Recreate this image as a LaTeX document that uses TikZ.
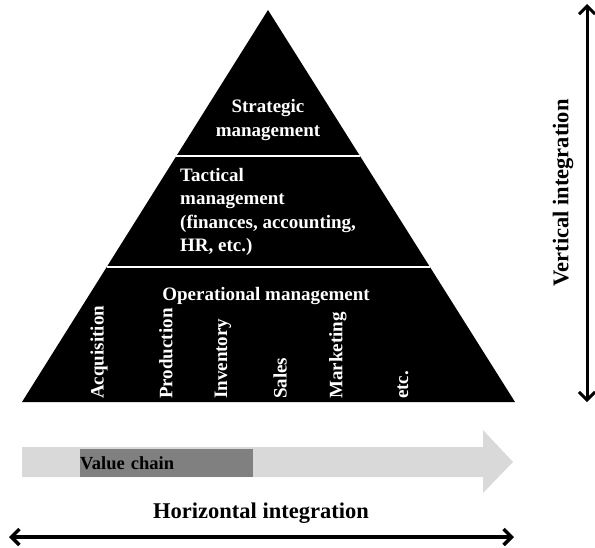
\documentclass[tikz,border=0pt]{standalone}
\usepackage{fontspec}
\setmainfont{Liberation Serif}
\usetikzlibrary{arrows.meta,calc}

\begin{document}
\begin{tikzpicture}[x=1pt, y=-1pt,
    level/.style={text=white, inner sep=0pt, font=\fontsize{19}{23.5}\selectfont\bfseries},
    task/.style={level, rotate=90, anchor=west},
    divider/.style={white, line width=2.5pt},
    integration/.style={line width=3.5pt, {Straight Barb[length=8pt,width=16pt]}-{Straight Barb[length=8pt,width=16pt]}},
    axislabel/.style={inner sep=0pt, font=\fontsize{22.5}{26}\selectfont\bfseries}
]
    \useasboundingbox (0,0) rectangle (595,547);

    % Pyramid
    \coordinate (apex) at (268,10);
    \coordinate (baseL) at (22,402);
    \coordinate (baseR) at (515,402);
    \fill[black] (apex) -- (baseR) -- (baseL) -- cycle;

    % Levels
    \draw[divider] ($(apex)!0.3724!(baseL)$) -- ($(apex)!0.3724!(baseR)$);
    \draw[divider] ($(apex)!0.6556!(baseL)$) -- ($(apex)!0.6556!(baseR)$);

    \node[level, align=center] (strat) at (268,120) {Strategic\\management};
    \node[level, align=left, anchor=west] (tact) at (180,212) {Tactical\\management\\(finances, accounting,\\HR, etc.)};
    \node[level] (oper) at (266,296) {Operational management};

    % Operative Bereiche
    \node[task] (acq) at (99,399) {Acquisition};
    \node[task] (prod) at (166,399) {Production};
    \node[task] (inv) at (223,399) {Inventory};
    \node[task] (sales) at (280,399) {Sales};
    \node[task] (mark) at (338,399) {Marketing};
    \node[task] (etc) at (403,399) {etc.};

    % Value chain
    \fill[gray!30] (22,447) -- (483,447) -- (483,430) -- (513,462) -- (483,493) -- (483,477) -- (22,477) -- cycle;
    \node[fill=gray, inner xsep=0pt, inner ysep=0pt, text width=173pt, minimum height=28pt, anchor=west,
          font=\fontsize{18.5}{22}\selectfont\bfseries] (chain) at (80,463) {Value chain};

    % Integration
    \node[axislabel] (horiz) at (261,513) {Horizontal integration};
    \coordinate (hleft) at (9,537);
    \coordinate (hright) at (514,537);
    \draw[integration] (hleft) -- (hright);

    \coordinate (vtop) at (587,4);
    \coordinate (vbot) at (587,402);
    \draw[integration, line width=3pt] (vtop) -- (vbot);
    \node[axislabel, rotate=90] (vert) at (563,193) {Vertical integration};
\end{tikzpicture}
\end{document}
